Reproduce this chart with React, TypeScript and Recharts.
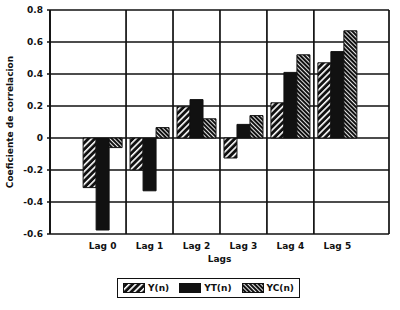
import { Bar, BarChart, CartesianGrid, Label, Legend, XAxis, YAxis } from "recharts";

// correlation coefficient per lag
const LAGS = ["Lag 0", "Lag 1", "Lag 2", "Lag 3", "Lag 4", "Lag 5"];
const Y_N = [-0.31, -0.2, 0.195, -0.125, 0.22, 0.47];
const YT_N = [-0.575, -0.33, 0.24, 0.085, 0.41, 0.54];
const YC_N = [-0.06, 0.065, 0.12, 0.14, 0.52, 0.67];
const Y_TICKS = [-0.6, -0.4, -0.2, 0, 0.2, 0.4, 0.6, 0.8];
const NAMES = ["Y(n)", "YT(n)", "YC(n)"];

// x runs on a numeric axis so the grid can sit between the lag groups
const X_MIN = -1.12;
const X_MAX = 6.1;
const X_BOUNDS = [X_MIN, 0.5, 1.5, 2.5, 3.5, 4.5, X_MAX];
const X_CENTERS = LAGS.map((_, i) => i);

const data = LAGS.map((lag, i) => ({
  x: i,
  lag,
  y: Y_N[i],
  yt: YT_N[i],
  yc: YC_N[i],
}));

const FONT = "'DejaVu Sans', sans-serif";
const INK = "#111";
const FILLS = ["url(#hatch-fwd)", INK, "url(#hatch-back)"];

const tickStyle = { fill: INK, fontSize: 9, fontWeight: 700, fontFamily: FONT };

function Patterns() {
  return (
    <defs>
      <pattern id="hatch-fwd" width="4.5" height="4.5" patternUnits="userSpaceOnUse" patternTransform="rotate(45)">
        <rect width="4.5" height="4.5" fill={INK} />
        <rect width="1.6" height="4.5" fill="#fff" />
      </pattern>
      <pattern id="hatch-back" width="3" height="3" patternUnits="userSpaceOnUse" patternTransform="rotate(-45)">
        <rect width="3" height="3" fill={INK} />
        <rect width="0.9" height="3" fill="#fff" />
      </pattern>
    </defs>
  );
}

function LegendBox() {
  return (
    <div style={{ display: "flex", justifyContent: "center", paddingLeft: 17 }}>
      <div
        style={{
          display: "flex",
          alignItems: "center",
          border: `1.5px solid ${INK}`,
          height: 18,
          padding: "0 5px",
          gap: 4,
          fontFamily: FONT,
          fontSize: 9,
          fontWeight: 700,
          color: INK,
        }}
      >
        {NAMES.map((n, i) => (
          <div key={n} style={{ display: "flex", alignItems: "center", gap: 3, marginRight: i < 2 ? 6 : 0 }}>
            <svg width={22} height={10}>
              <rect x={0.5} y={0.5} width={21} height={9} fill={FILLS[i]} stroke={INK} />
            </svg>
            <span>{n}</span>
          </div>
        ))}
      </div>
    </div>
  );
}

export default function App() {
  return (
    <div style={{ position: "absolute", left: 0, top: 0, width: 400, height: 310, background: "#fff" }}>
      <BarChart
        width={400}
        height={310}
        data={data}
        margin={{ top: 10, right: 11, left: 0, bottom: 12 }}
        barGap={0}
        barSize={13}
      >
        <Patterns />
        <CartesianGrid stroke={INK} strokeWidth={1.7} />
        <XAxis
          type="number"
          dataKey="x"
          domain={[X_MIN, X_MAX]}
          ticks={X_BOUNDS}
          tickFormatter={() => ""}
          tickSize={3}
          height={0}
          axisLine={{ stroke: INK, strokeWidth: 1.7 }}
          tickLine={{ stroke: INK, strokeWidth: 1.5 }}
          allowDataOverflow
        />
        <XAxis
          xAxisId="lab"
          type="number"
          dataKey="x"
          domain={[X_MIN, X_MAX]}
          ticks={X_CENTERS}
          tickFormatter={(v) => LAGS[v] ?? ""}
          tick={tickStyle}
          tickLine={false}
          axisLine={false}
          tickSize={3}
          tickMargin={6}
          height={44}
          allowDataOverflow
        >
          <Label value="Lags" position="insideTop" offset={22} style={tickStyle} />
        </XAxis>
        <YAxis
          domain={[-0.6, 0.8]}
          ticks={Y_TICKS}
          tickFormatter={(v) => (v === 0 ? "0" : v.toFixed(1))}
          tick={tickStyle}
          width={50}
          tickSize={3}
          tickMargin={4}
          axisLine={{ stroke: INK, strokeWidth: 1.7 }}
          tickLine={{ stroke: INK, strokeWidth: 1.5 }}
        >
          <Label
            content={({ viewBox }: any) => {
              const cx = viewBox.x + 10;
              const cy = viewBox.y + viewBox.height / 2;
              return (
                <text
                  x={cx}
                  y={cy}
                  transform={`rotate(-90 ${cx} ${cy})`}
                  textAnchor="middle"
                  dominantBaseline="central"
                  style={tickStyle}
                >
                  Coeficiente de correlacion
                </text>
              );
            }}
          />
        </YAxis>
        <Legend verticalAlign="bottom" content={() => <LegendBox />} wrapperStyle={{ left: 0, width: 400 }} />
        <Bar dataKey="y" name={NAMES[0]} fill={FILLS[0]} stroke={INK} strokeWidth={1} isAnimationActive={false} />
        <Bar dataKey="yt" name={NAMES[1]} fill={FILLS[1]} stroke={INK} strokeWidth={1} isAnimationActive={false} />
        <Bar dataKey="yc" name={NAMES[2]} fill={FILLS[2]} stroke={INK} strokeWidth={1} isAnimationActive={false} />
      </BarChart>
    </div>
  );
}
